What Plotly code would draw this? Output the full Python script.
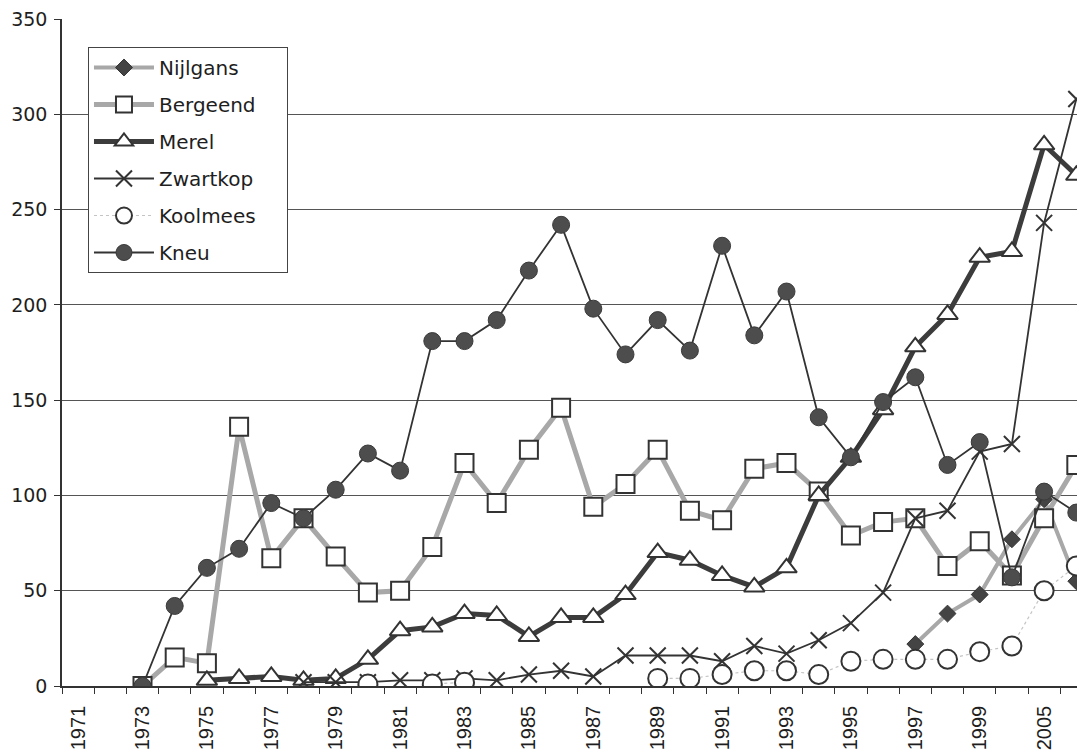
import plotly.graph_objects as go

years = [str(y) for y in range(1971, 2001)] + ["2005", "2006"]

N = None
nijlgans = [N]*26 + [22, 38, 48, 77, 98, 55]
bergeend = [N, N, 0, 15, 12, 136, 67, 88, 68, 49, 50, 73, 117, 96, 124, 146, 94, 106,
            124, 92, 87, 114, 117, 102, 79, 86, 88, 63, 76, 58, 88, 116]
merel = [N, N, N, N, 3, 4, 5, 3, 4, 14, 29, 31, 38, 37, 26, 36, 36, 48,
         70, 66, 58, 52, 62, 100, 120, 145, 178, 195, 225, 228, 284, 268]
zwartkop = [N, N, N, N, N, N, N, 2, 2, 2, 3, 3, 4, 3, 6, 8, 5, 16,
            16, 16, 13, 21, 17, 24, 33, 49, 88, 92, 123, 127, 243, 308]
koolmees = [N, N, N, N, N, N, N, N, N, 1, N, 1, 2, N, N, N, N, N,
            4, 4, 6, 8, 8, 6, 13, 14, 14, 14, 18, 21, 50, 63]
kneu = [N, N, 0, 42, 62, 72, 96, 88, 103, 122, 113, 181, 181, 192, 218, 242, 198, 174,
        192, 176, 231, 184, 207, 141, 120, 149, 162, 116, 128, 57, 102, 91]

x = list(range(len(years)))
DARK = "#333333"
PAD = "\u00a0" * 4  # widens the legend box like the original

series = [
    ("Nijlgans", nijlgans, dict(color="#a8a8a8", width=4),
     dict(symbol="diamond", size=13, color="#444444", line=dict(color="#333333", width=1))),
    ("Bergeend", bergeend, dict(color="#a8a8a8", width=5),
     dict(symbol="square", size=18, color="white", line=dict(color=DARK, width=2))),
    ("Merel", merel, dict(color="#3c3c3c", width=5),
     dict(symbol="triangle-up", size=18, color="white", line=dict(color=DARK, width=2))),
    ("Zwartkop", zwartkop, dict(color="#333333", width=1.8),
     dict(symbol="x-thin", size=16, color=DARK, line=dict(color=DARK, width=2))),
    ("Koolmees", koolmees, dict(color="#c4c4c4", width=1.2, dash="dot"),
     dict(symbol="circle", size=19, color="white", line=dict(color=DARK, width=2))),
    ("Kneu", kneu, dict(color="#333333", width=1.8),
     dict(symbol="circle", size=17, color="#4d4d4d", line=dict(color="#3a3a3a", width=1))),
]

fig = go.Figure()
for i, (name, vals, ln, mk) in enumerate(series):
    fig.add_trace(go.Scatter(
        x=x, y=vals, name=name + PAD, mode="lines+markers",
        line=ln, marker=mk, connectgaps=False, legendgroup=f"g{i}",
    ))

yfont = dict(family="DejaVu Sans, Verdana, sans-serif", size=19, color="#1e1e1e")
lfont = dict(family="DejaVu Sans, Verdana, sans-serif", size=20, color="#1e1e1e")
xfont = dict(family="Liberation Sans, Arial, sans-serif", size=20, color="#1e1e1e")

fig.update_layout(
    width=1077, height=745,
    margin=dict(l=54, r=0, t=11, b=67, autoexpand=False),
    paper_bgcolor="white", plot_bgcolor="white",
    font=yfont,
    showlegend=True,
    legend=dict(
        x=0.0254, y=0.958, xanchor="left", yanchor="top",
        bgcolor="white", bordercolor="#444444", borderwidth=1,
        font=lfont, tracegroupgap=8, traceorder="grouped",
        itemwidth=60,
    ),
    xaxis=dict(
        range=[-0.5, 31.27],
        tickmode="array", tickvals=x[::2], ticktext=years[::2],
        tickangle=-90, ticks="", showgrid=False, zeroline=False,
        showline=True, linecolor="#333333", linewidth=1.5,
        tickfont=xfont, ticklabelstandoff=10, ticklabeloverflow="allow",
        minor=dict(tickmode="array", tickvals=[i - 0.5 for i in x] + [31.5],
                   ticks="outside", ticklen=6, tickcolor="#333333", showgrid=False),
    ),
    yaxis=dict(
        range=[0, 350], dtick=50, tick0=0,
        ticks="outside", ticklen=6, tickcolor="#333333",
        showgrid=True, gridcolor="#555555", gridwidth=1,
        zeroline=False, showline=True, linecolor="#333333", linewidth=1.5,
        tickfont=yfont, ticklabelstandoff=3, ticklabeloverflow="allow",
    ),
)

fig.write_html("out.html")
